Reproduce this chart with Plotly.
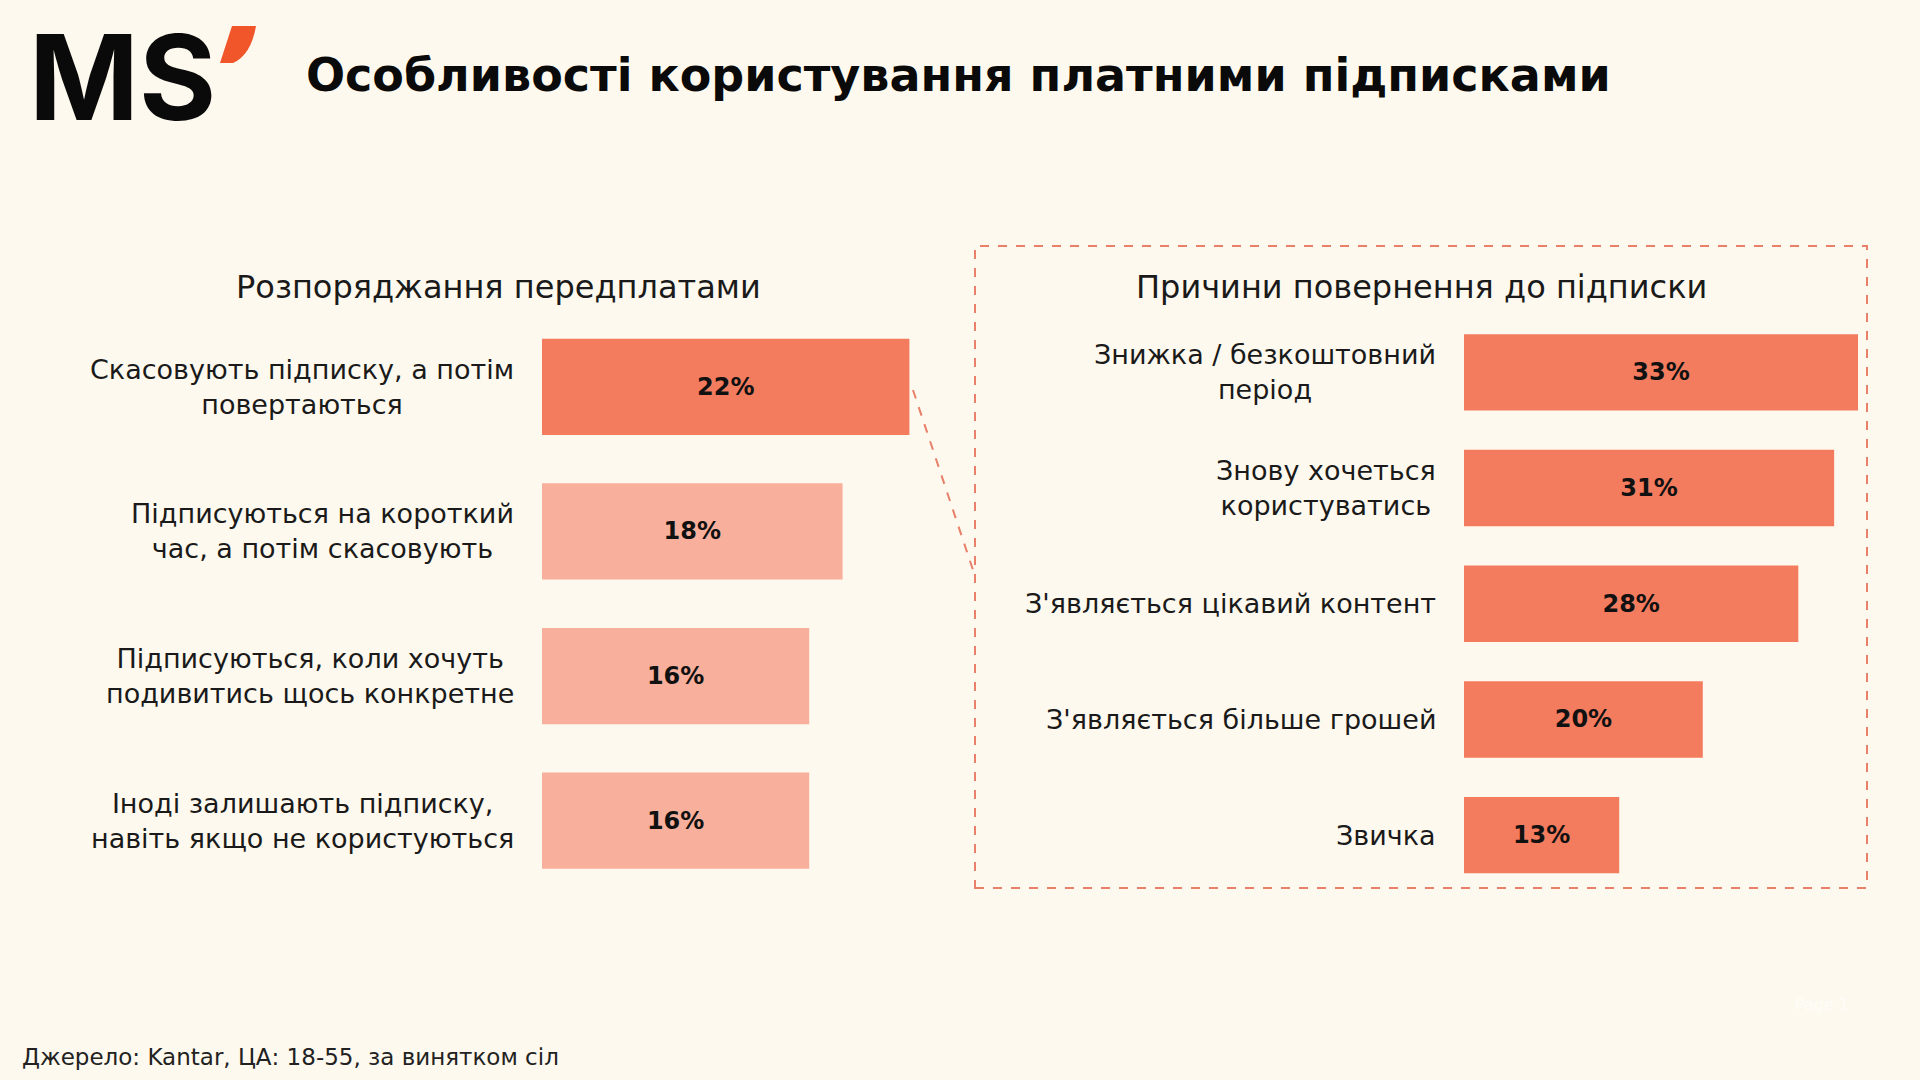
import plotly.graph_objects as go

# Ліва частина: розпорядження передплатами
left_cats = [
    "Скасовують підписку, а потім<br>повертаються",
    "Підписуються на короткий<br>час, а потім скасовують",
    "Підписуються, коли хочуть<br>подивитись щось конкретне",
    "Іноді залишають підписку,<br>навіть якщо не користуються",
]
left_vals = [22, 18, 16, 16]

# Права частина: причини повернення
right_cats = [
    "Знижка / безкоштовний<br>період",
    "Знову хочеться<br>користуватись",
    "З'являється цікавий контент",
    "З'являється більше грошей",
    "Звичка",
]
right_vals = [33, 31, 28, 20, 13]

BG = "#FEF9EE"
CORAL = "#F47C5E"
CORAL_LIGHT = "#F8B09C"
FONT = "DejaVu Sans"
W, H = 1920, 1080


def px_x(p):
    return p / W


def px_y(p):
    return 1 - p / H


fig = go.Figure()

fig.add_trace(go.Bar(
    x=left_vals, y=left_cats, orientation="h",
    xaxis="x", yaxis="y", width=0.665,
    marker=dict(color=[CORAL] + [CORAL_LIGHT] * (len(left_vals) - 1), line_width=0),
    texttemplate="<b>%{x}%</b>", textposition="inside", insidetextanchor="middle",
    textfont=dict(family=FONT, size=24, color="#111111"),
    hoverinfo="skip",
))

fig.add_trace(go.Bar(
    x=right_vals, y=right_cats, orientation="h",
    xaxis="x2", yaxis="y2", width=0.66,
    marker=dict(color=CORAL, line_width=0),
    texttemplate="<b>%{x}%</b>", textposition="inside", insidetextanchor="middle",
    textfont=dict(family=FONT, size=24, color="#111111"),
    hoverinfo="skip",
))

ydom = [px_y(893), px_y(314.5)]
axis_off = dict(showgrid=False, zeroline=False, showticklabels=False, showline=False, ticks="")

fig.update_layout(
    width=W, height=H,
    margin=dict(l=0, r=0, t=0, b=0),
    paper_bgcolor=BG, plot_bgcolor=BG,
    showlegend=False,
    font=dict(family=FONT, color="#1a1a1a"),
    xaxis=dict(domain=[px_x(542), px_x(542 + 30 * 16.7)], range=[0, 30], **axis_off),
    yaxis=dict(domain=ydom, categoryorder="array", categoryarray=left_cats,
               autorange="reversed", **axis_off),
    xaxis2=dict(domain=[px_x(1464), px_x(1464 + 35 * 11.94)], range=[0, 35], **axis_off),
    yaxis2=dict(domain=ydom, categoryorder="array", categoryarray=right_cats,
                autorange="reversed", anchor="x2", **axis_off),
)

# підписи категорій
for cat in left_cats:
    fig.add_annotation(x=0, y=cat, xref="x", yref="y", text=cat, showarrow=False,
                       xanchor="right", yanchor="middle", align="center", xshift=-26,
                       font=dict(family=FONT, size=27, color="#1a1a1a"))
for cat in right_cats:
    fig.add_annotation(x=0, y=cat, xref="x2", yref="y2", text=cat, showarrow=False,
                       xanchor="right", yanchor="middle", align="center", xshift=-26,
                       font=dict(family=FONT, size=27, color="#1a1a1a"))

# заголовки
fig.add_annotation(x=px_x(304), y=px_y(75), xref="paper", yref="paper",
                   text="<b>Особливості користування платними підписками</b>",
                   showarrow=False, xanchor="left", yanchor="middle",
                   font=dict(family=FONT, size=46, color="#0a0a0a"))
fig.add_annotation(x=px_x(498), y=px_y(287), xref="paper", yref="paper",
                   text="Розпоряджання передплатами", showarrow=False,
                   xanchor="center", yanchor="middle",
                   font=dict(family=FONT, size=32, color="#1a1a1a"))
fig.add_annotation(x=px_x(1421), y=px_y(287), xref="paper", yref="paper",
                   text="Причини повернення до підписки", showarrow=False,
                   xanchor="center", yanchor="middle",
                   font=dict(family=FONT, size=32, color="#1a1a1a"))

# логотип
fig.add_annotation(x=px_x(27), y=px_y(77), xref="paper", yref="paper",
                   text="<b>MS</b>", showarrow=False, xanchor="left", yanchor="middle",
                   font=dict(family="Inter", size=118, color="#0a0a0a", weight=900))
fig.add_shape(type="path", xref="paper", yref="paper",
              path="M {} {} L {} {} Q {} {} {} {} L {} {} Z".format(
                  px_x(232), px_y(26), px_x(256), px_y(26),
                  px_x(251), px_y(55), px_x(233), px_y(63),
                  px_x(220), px_y(63)),
              fillcolor="#F0562A", line_width=0)

# джерело
fig.add_annotation(x=px_x(20), y=px_y(1057), xref="paper", yref="paper",
                   text="Джерело: Kantar, ЦА: 18-55, за винятком сіл", showarrow=False,
                   xanchor="left", yanchor="middle",
                   font=dict(family=FONT, size=23, color="#222222"))
fig.add_annotation(x=px_x(1822), y=px_y(1004), xref="paper", yref="paper",
                   text="Page 1", showarrow=False, xanchor="center", yanchor="middle",
                   font=dict(family=FONT, size=16, color="rgba(255,255,255,0.7)"))

# пунктирна рамка і з'єднувальна лінія
fig.add_shape(type="rect", xref="paper", yref="paper",
              x0=px_x(975), x1=px_x(1867), y0=px_y(888), y1=px_y(246),
              line=dict(color="#E8806A", width=2, dash="dash"), fillcolor="rgba(0,0,0,0)")
fig.add_shape(type="line", xref="paper", yref="paper",
              x0=px_x(913), y0=px_y(390), x1=px_x(975), y1=px_y(576),
              line=dict(color="#E8806A", width=2, dash="dash"))

fig.write_html("out.html", config={"displayModeBar": False},
               post_script="document.body.style.margin='0';")
